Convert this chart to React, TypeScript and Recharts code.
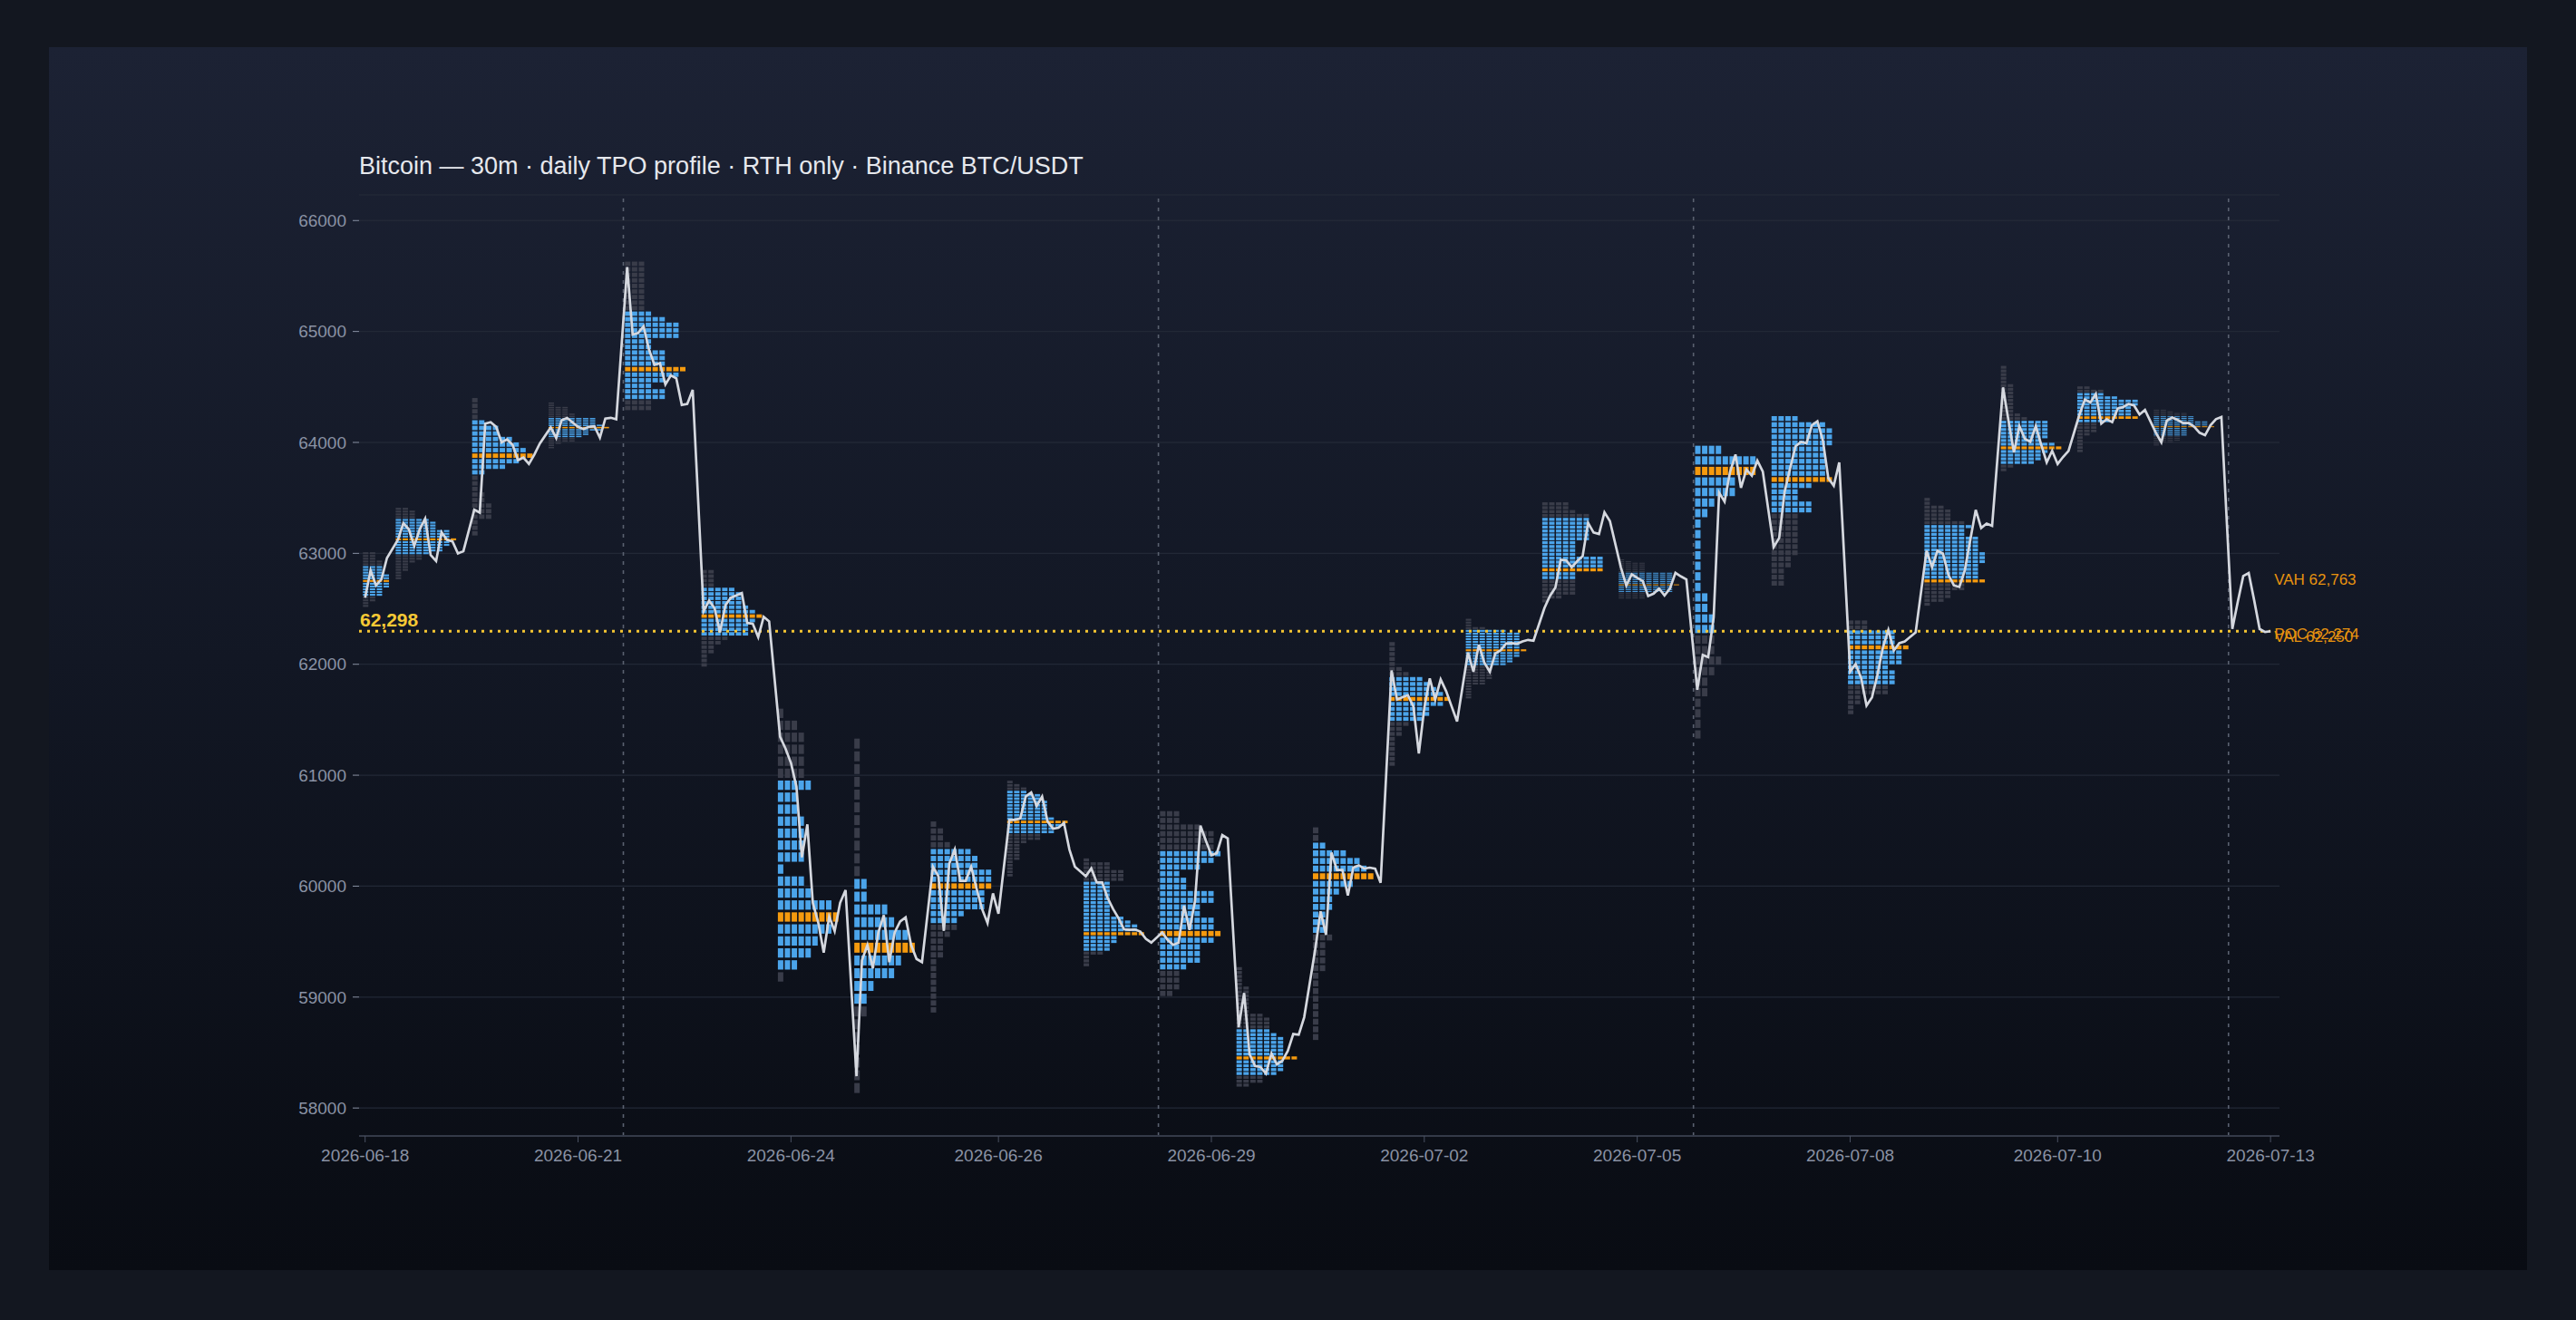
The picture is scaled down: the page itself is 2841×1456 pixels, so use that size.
import React from 'react';
import {
  ComposedChart,
  Line,
  XAxis,
  YAxis,
  CartesianGrid,
  ReferenceArea,
  ReferenceLine,
  ReferenceDot,
} from 'recharts';

// one session label per day (RTH bars only, 13 x 30m per day)
const DAY_LABELS = [
  '2026-06-18', '2026-06-19', '2026-06-20', '2026-06-21', '2026-06-22', '2026-06-23',
  '2026-06-24', '2026-06-25', '2026-06-26', '2026-06-27', '2026-06-28', '2026-06-29',
  '2026-06-30', '2026-07-01', '2026-07-02', '2026-07-03', '2026-07-04', '2026-07-05',
  '2026-07-06', '2026-07-07', '2026-07-08', '2026-07-09', '2026-07-10', '2026-07-11',
  '2026-07-12', '2026-07-13',
];
const WEEK_STARTS = [4, 11, 18, 25];

// 30m closes, one list per session
const CLOSES: number[][] = [
  [62601, 62846, 62712, 62767, 62958],
  [63121, 63271, 63217, 63067, 63217, 63312, 62985, 62930, 63190, 63121, 63108, 62999, 63020],
  [63394, 63367, 64169, 64182, 64141, 64000, 64027, 63979, 63840, 63863, 63806, 63890, 63990],
  [64135, 64040, 64200, 64220, 64180, 64140, 64120, 64140, 64145, 64043, 64215, 64222, 64208],
  [65581, 64973, 64986, 65046, 64836, 64700, 64714, 64523, 64605, 64577, 64338, 64346, 64474],
  [62478, 62574, 62506, 62288, 62533, 62601, 62620, 62642, 62372, 62366, 62245, 62428, 62386],
  [61347, 61240, 61110, 60897, 60260, 60557, 59850, 59670, 59400, 59726, 59595, 59850, 59965],
  [58287, 59330, 59470, 59259, 59583, 59738, 59315, 59583, 59682, 59718, 59470, 59344, 59315],
  [60175, 60090, 59597, 60203, 60330, 60048, 60048, 60175, 59977, 59794, 59668, 59935, 59752],
  [60597, 60597, 60611, 60808, 60845, 60724, 60808, 60583, 60518, 60527, 60569, 60330, 60175],
  [60090, 60160, 60034, 60034, 59893, 59794, 59710, 59611, 59606, 59609, 59590, 59525, 59491],
  [59582, 59515, 59470, 59491, 59824, 59606, 59864, 60546, 60409, 60279, 60297, 60461, 60430],
  [58728, 59037, 58485, 58379, 58370, 58310, 58491, 58394, 58425, 58515, 58667, 58661, 58818],
  [59424, 59773, 59561, 60303, 60146, 60146, 59915, 60167, 60188, 60158, 60167, 60158, 60030],
  [61945, 61682, 61703, 61721, 61621, 61197, 61606, 61873, 61682, 61864, 61758, 61621, 61485],
  [62106, 61933, 62176, 62015, 61933, 62097, 62127, 62188, 62190, 62185, 62206, 62220, 62212],
  [62506, 62615, 62691, 62942, 62937, 62874, 62929, 62975, 63275, 63188, 63174, 63370, 63291],
  [62874, 62711, 62811, 62779, 62751, 62615, 62637, 62683, 62621, 62683, 62825, 62792, 62765],
  [61770, 62084, 62065, 62424, 63547, 63466, 63733, 63891, 63591, 63755, 63700, 63836, 63738],
  [63057, 63139, 63556, 63766, 63965, 64005, 63992, 64155, 64191, 64019, 63678, 63610, 63820],
  [61934, 62002, 61879, 61628, 61702, 61906, 62152, 62310, 62124, 62190, 62206, 62247, 62288],
  [63024, 62874, 63024, 62997, 62806, 62711, 62697, 62847, 63120, 63392, 63229, 63269, 63248],
  [64496, 64196, 63910, 64147, 64033, 64005, 64147, 63978, 63820, 63924, 63806, 63869, 63924],
  [64251, 64387, 64360, 64436, 64169, 64210, 64183, 64305, 64319, 64346, 64333, 64251, 64292],
  [64087, 64000, 64196, 64224, 64202, 64174, 64174, 64142, 64087, 64065, 64155, 64210, 64229],
  [62318, 62563, 62795, 62822, 62577, 62318, 62291, 62298],
];

// TPO profiles: top price of the highest row, row size, letters per row (top -> bottom)
const PROF_TOP = [
  63010, 63410, 64400, 64360, 65630, 62850, 61600, 61330, 60583, 60950, 60250, 60676, 59270,
  60530, 62200, 62410, 63460, 62945, 63970, 64237, 62395, 63500, 64690, 64505, 64295, 62990,
];
const PROF_STEP = [
  25, 25, 50, 20, 50, 40, 108, 115, 62, 30, 35, 60, 35,
  69, 45, 25, 35, 15, 95, 55, 45, 35, 33, 30, 15, 35,
];
const PROF_COUNTS: number[][] = [
  [2, 2, 2, 3, 3, 3, 3, 3, 4, 4, 4, 4, 4, 3, 3, 3, 2, 2, 1, 1],
  [2, 3, 3, 3, 5, 6, 6, 6, 8, 8, 8, 9, 8, 8, 7, 7, 5, 4, 4, 3, 2, 2, 2, 1, 1, 1],
  [1, 1, 1, 1, 2, 4, 4, 6, 7, 8, 9, 7, 5, 2, 1, 1, 1, 2, 2, 3, 3, 3, 1, 1, 1],
  [1, 1, 3, 3, 3, 4, 4, 7, 7, 7, 8, 9, 8, 6, 6, 5, 4, 4, 2, 1, 1],
  [3, 3, 3, 3, 3, 3, 3, 3, 3, 4, 6, 8, 8, 8, 4, 4, 6, 6, 6, 9, 8, 6, 4, 6, 6, 4, 4],
  [2, 2, 2, 2, 5, 6, 6, 6, 7, 8, 9, 8, 7, 7, 7, 4, 3, 2, 2, 1, 1, 1],
  [1, 3, 4, 4, 4, 4, 5, 3, 3, 4, 4, 4, 4, 1, 4, 5, 8, 9, 8, 6, 5, 3, 1],
  [1, 1, 1, 1, 1, 1, 1, 1, 1, 1, 1, 2, 2, 5, 6, 8, 9, 7, 6, 3, 2, 2, 1, 1, 1, 1, 1, 1],
  [1, 2, 2, 3, 6, 7, 7, 9, 9, 9, 8, 8, 8, 5, 4, 4, 3, 2, 2, 2, 1, 1, 1, 1, 1, 1, 1, 1],
  [1, 2, 3, 3, 5, 5, 6, 6, 6, 6, 6, 7, 9, 8, 7, 7, 5, 5, 3, 2, 2, 2, 2, 2, 1, 1, 1, 1, 1],
  [1, 4, 4, 6, 6, 6, 4, 4, 4, 4, 4, 4, 4, 4, 4, 6, 7, 8, 8, 9, 5, 5, 4, 4, 3, 1, 1, 1],
  [3, 3, 6, 8, 8, 8, 9, 8, 6, 3, 4, 4, 8, 8, 6, 6, 8, 8, 9, 8, 6, 6, 6, 4, 3, 3, 3, 2],
  [1, 1, 1, 1, 1, 2, 2, 2, 2, 2, 2, 2, 4, 5, 5, 5, 5, 6, 7, 7, 7, 7, 7, 9, 7, 7, 7, 6, 4, 4, 2],
  [1, 1, 2, 5, 7, 8, 9, 6, 4, 3, 3, 2, 2, 2, 3, 2, 2, 2, 2, 1, 1, 1, 1, 1, 1, 1, 1, 1],
  [1, 1, 1, 1, 1, 2, 3, 5, 6, 7, 8, 9, 8, 6, 6, 5, 3, 2, 2, 1, 1, 1, 1, 1, 1],
  [1, 1, 1, 3, 6, 8, 8, 8, 8, 8, 8, 9, 8, 8, 7, 7, 6, 4, 4, 4, 4, 4, 3, 3, 1, 1, 1, 1, 1],
  [4, 4, 5, 7, 7, 7, 7, 7, 7, 7, 5, 5, 5, 5, 9, 9, 9, 9, 5, 5, 5, 5, 5, 5, 3, 1],
  [1, 2, 4, 4, 4, 4, 4, 4, 8, 8, 8, 8, 8, 8, 8, 9, 8, 8, 8, 8, 4, 4, 4, 4],
  [4, 9, 9, 6, 6, 3, 2, 1, 1, 1, 1, 1, 1, 1, 2, 2, 3, 3, 3, 3, 4, 3, 2, 2, 1, 1, 1, 1],
  [4, 8, 9, 9, 9, 8, 8, 8, 8, 8, 9, 6, 4, 4, 6, 6, 4, 4, 4, 4, 4, 4, 4, 3, 3, 2, 2, 2],
  [3, 3, 7, 7, 7, 9, 8, 8, 8, 6, 7, 7, 7, 6, 6, 2, 2, 1, 1],
  [1, 1, 3, 4, 4, 4, 6, 7, 6, 6, 8, 8, 8, 8, 9, 9, 9, 8, 8, 8, 8, 9, 6, 6, 4, 4, 3, 1],
  [1, 1, 1, 1, 1, 2, 2, 2, 2, 2, 2, 2, 2, 3, 4, 7, 7, 7, 7, 7, 6, 8, 9, 7, 6, 6, 5, 2, 1],
  [2, 4, 4, 6, 9, 9, 8, 8, 8, 9, 5, 3, 3, 3, 2, 1, 1, 1, 1, 1],
  [2, 3, 5, 5, 6, 6, 6, 8, 8, 8, 9, 5, 5, 5, 5, 5, 4, 4, 4, 3, 1, 1],
  [1, 2, 2, 2, 3, 3, 5, 5, 5, 5, 6, 6, 6, 5, 5, 5, 5, 6, 6, 5, 6, 5, 3, 3, 3],
];
// value-area rows [first, last] and point-of-control row, as row indexes
const PROF_VA: number[][] = [
  [5, 15], [4, 16], [4, 13], [7, 15], [9, 24], [4, 14], [6, 21], [11, 20], [4, 14],
  [3, 15], [6, 23], [6, 23], [16, 27], [2, 13], [7, 15], [4, 16], [4, 19], [8, 19],
  [0, 17], [0, 15], [2, 12], [7, 21], [15, 26], [2, 10], [4, 15], [6, 20],
];
const PROF_POC = [10, 11, 10, 11, 19, 10, 17, 16, 9, 12, 19, 18, 23, 6, 11, 11, 17, 15, 2, 10, 5, 21, 22, 9, 10, 20];

const LAST_PRICE = 62298;
const LAST_LEVELS = [
  { name: 'VAH', value: 62763 },
  { name: 'POC', value: 62274 },
  { name: 'VAL', value: 62250 },
];
const Y_TICKS = [58000, 59000, 60000, 61000, 62000, 63000, 64000, 65000, 66000];

const SLOTS_PER_DAY = 14; // 13 RTH bars + one empty slot for the overnight break
const FIRST_BAR = 8;
const TICK_EVERY = 36;
const MAX_COLS = 9;
const COL_SLOTS = 1.26;

const BLUE = '#4ba4ea';
const ORANGE = '#f59a0e';
const GREY = '#393c49';
const FONT = '"Liberation Sans", Arial, Helvetica, sans-serif';

const slotOf = (d: number, j: number) => SLOTS_PER_DAY * d + (d === 0 ? FIRST_BAR : 0) + j;

function TpoBlocks(props: any) {
  const { x, y, width, height, day } = props;
  const counts = PROF_COUNTS[day];
  const va = PROF_VA[day];
  const poc = PROF_POC[day];
  const colW = width / MAX_COLS;
  const rowH = height / counts.length;
  const bw = colW * 0.79;
  const gap = Math.max(0.9, rowH * 0.22);
  const bh = Math.max(0.7, rowH - gap);
  const blocks: React.ReactNode[] = [];
  counts.forEach((n, r) => {
    const fill = r === poc ? ORANGE : r >= va[0] && r <= va[1] ? BLUE : GREY;
    for (let c = 0; c < n; c++) {
      blocks.push(
        <rect key={`${r}-${c}`} x={x + c * colW} y={y + r * rowH} width={bw} height={bh} fill={fill} />
      );
    }
  });
  return <g>{blocks}</g>;
}

export default function App() {
  const lineData = CLOSES.flatMap((day, d) => day.map((p, j) => ({ s: slotOf(d, j), p })));
  const xTicks = lineData.filter((_, i) => i % TICK_EVERY === 0).map((r) => r.s);
  const lastSlot = lineData[lineData.length - 1].s;
  const xDomain = [6.89, 358.64];

  return (
    <div
      style={{
        position: 'fixed',
        left: 0,
        top: 0,
        width: 2841,
        height: 1456,
        background: '#131720',
        fontFamily: FONT,
        overflow: 'hidden',
      }}
    >
      <div
        style={{
          position: 'absolute',
          left: 54,
          top: 52,
          width: 2733,
          height: 1349,
          background: 'linear-gradient(180deg, #1c2234 0%, #121724 50%, #090c13 100%)',
        }}
      />
      <div
        style={{
          position: 'absolute',
          left: 396,
          top: 168,
          fontSize: 27,
          color: '#e6e8ed',
          whiteSpace: 'nowrap',
        }}
      >
        Bitcoin — 30m · daily TPO profile · RTH only · Binance BTC/USDT
      </div>
      <div style={{ position: 'absolute', left: 0, top: 0 }}>
        <ComposedChart
          width={2841}
          height={1456}
          data={lineData}
          margin={{ top: 215, right: 327, bottom: 153, left: 296 }}
        >
          <CartesianGrid vertical={false} stroke="#222836" strokeWidth={1.3} />
          <XAxis
            type="number"
            dataKey="s"
            domain={xDomain}
            allowDataOverflow
            ticks={xTicks}
            interval={0}
            tickFormatter={(s: number) => DAY_LABELS[Math.floor(s / SLOTS_PER_DAY)]}
            height={50}
            tick={{ fill: '#8a92a4', fontSize: 19 }}
            tickSize={7}
            tickMargin={8}
            axisLine={{ stroke: '#343a48', strokeWidth: 2 }}
            tickLine={{ stroke: '#4a5162' }}
          />
          <YAxis
            type="number"
            domain={[57748, 66231]}
            allowDataOverflow
            ticks={Y_TICKS}
            interval={0}
            width={100}
            tick={{ fill: '#8a92a4', fontSize: 19 }}
            tickSize={7}
            tickMargin={7}
            axisLine={false}
            tickLine={{ stroke: '#8a92a4' }}
          />
          {WEEK_STARTS.map((d) => (
            <ReferenceLine
              key={`wk-${d}`}
              x={SLOTS_PER_DAY * d - 0.7}
              stroke="#5a6170"
              strokeWidth={1.6}
              strokeDasharray="4 6"
            />
          ))}
          {PROF_TOP.map((top, d) => {
            const left = slotOf(d, 0) - 0.4;
            return (
              <ReferenceArea
                key={`tpo-${d}`}
                x1={left}
                x2={left + MAX_COLS * COL_SLOTS}
                y1={top - PROF_COUNTS[d].length * PROF_STEP[d]}
                y2={top}
                shape={(p: any) => <TpoBlocks {...p} day={d} />}
              />
            );
          })}
          <ReferenceLine
            segment={[
              { x: xDomain[0], y: LAST_PRICE },
              { x: lastSlot, y: LAST_PRICE },
            ]}
            stroke="#f3c432"
            strokeWidth={3}
            strokeDasharray="3 6"
            label={(p: any) => (
              <text
                x={p.viewBox.x + 1}
                y={p.viewBox.y - 5}
                fill="#f6c935"
                fontSize={21}
                fontWeight="bold"
              >
                {LAST_PRICE.toLocaleString('en-US')}
              </text>
            )}
          />
          <Line
            type="linear"
            dataKey="p"
            stroke="#d5d8df"
            strokeWidth={2.7}
            dot={false}
            isAnimationActive={false}
          />
          {LAST_LEVELS.map((lv) => (
            <ReferenceDot
              key={lv.name}
              x={lastSlot}
              y={lv.value}
              r={0}
              fill="none"
              stroke="none"
              label={{
                value: `${lv.name} ${lv.value.toLocaleString('en-US')}`,
                position: 'right',
                offset: 4,
                fill: '#e7930f',
                fontSize: 17,
              }}
            />
          ))}
        </ComposedChart>
      </div>
    </div>
  );
}
